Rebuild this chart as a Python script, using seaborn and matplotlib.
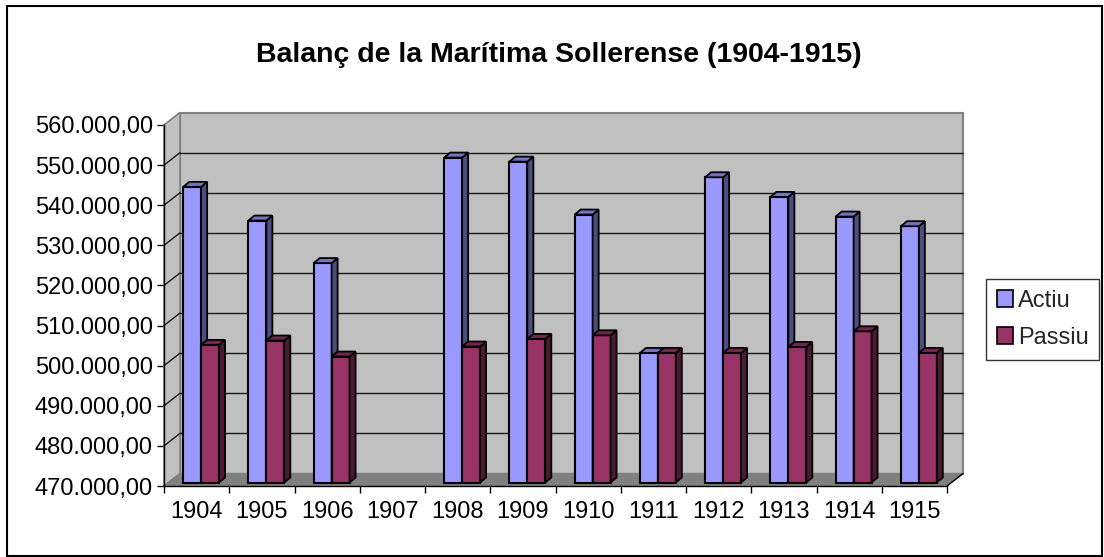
import numpy as np
import pandas as pd
import matplotlib
matplotlib.use("Agg")
import matplotlib.pyplot as plt
import seaborn as sns
from matplotlib.patches import Polygon, Rectangle, Patch
from matplotlib.lines import Line2D
from matplotlib.transforms import IdentityTransform, ScaledTranslation
from matplotlib.ticker import FuncFormatter

years = ["1904", "1905", "1906", "1907", "1908", "1909",
         "1910", "1911", "1912", "1913", "1914", "1915"]
actiu = [543700, 535300, 524700, np.nan, 551000, 550000,
         536800, 502300, 546100, 541200, 536300, 533900]
passiu = [504300, 505400, 501400, np.nan, 503900, 505800,
          506700, 502300, 502300, 503800, 507700, 502300]
series = ["Actiu", "Passiu"]

YMIN, YMAX = 470000, 560000
FRONT = {"Actiu": "#9999FF", "Passiu": "#993366"}
SIDE = {"Actiu": "#4D4D80", "Passiu": "#4D1A33"}
TOP = {"Actiu": "#7373C0", "Passiu": "#73264D"}

W, H = 1104, 557
WALL = (16, 12.5)    # depth of back wall, px
BAR_OFF = (4.5, 3.5)  # where bars sit in depth, px
BAR_D = (6, 5)       # bar depth, px

sns.set_theme(style="white")
plt.rcParams["font.family"] = ["Liberation Sans", "DejaVu Sans"]

df = pd.DataFrame({"year": years * 2,
                   "value": actiu + passiu,
                   "serie": ["Actiu"] * len(years) + ["Passiu"] * len(years)})

fig = plt.figure(figsize=(W / 100, H / 100), dpi=100)
ax = fig.add_axes([164 / W, (H - 486) / H, 783 / W, 361 / H])
ax.set_facecolor("none")

sns.barplot(data=df.dropna(), x="year", y="value", hue="serie", order=years,
            hue_order=series, palette=FRONT, saturation=1, width=0.55, errorbar=None,
            edgecolor="black", linewidth=1.5, legend=False, ax=ax)
bars = list(ax.patches)

ax.set_xlim(-0.5, len(years) - 0.5)
ax.set_ylim(YMIN, YMAX)


def disp(x, y, off=(0, 0)):
    p = ax.transData.transform((x, y))
    return (p[0] + off[0], p[1] + off[1])


def poly(pts, fc, ec, lw, z):
    ax.add_patch(Polygon(pts, closed=True, facecolor=fc, edgecolor=ec, lw=lw,
                         transform=IdentityTransform(), clip_on=False, zorder=z))


def line(p0, p1, color, lw, z):
    ax.add_line(Line2D([p0[0], p1[0]], [p0[1], p1[1]], color=color, lw=lw,
                       transform=IdentityTransform(), clip_on=False, zorder=z))


x0, x1 = -0.5, len(years) - 0.5
# back wall
poly([disp(x0, YMIN, WALL), disp(x1, YMIN, WALL), disp(x1, YMAX, WALL), disp(x0, YMAX, WALL)],
     "#C0C0C0", "#808080", 1.5, 0.5)
# side wall
poly([disp(x0, YMIN), disp(x0, YMIN, WALL), disp(x0, YMAX, WALL), disp(x0, YMAX)],
     "#C0C0C0", "#808080", 1.2, 0.55)
yticks = list(range(YMIN, YMAX + 1, 10000))
for v in yticks[1:-1]:
    line(disp(x0, v, WALL), disp(x1, v, WALL), "#1a1a1a", 1.0, 0.6)
    line(disp(x0, v), disp(x0, v, WALL), "#1a1a1a", 1.0, 0.6)
# floor
poly([disp(x0, YMIN), disp(x1, YMIN), disp(x1, YMIN, WALL), disp(x0, YMIN, WALL)],
     "#808080", "#808080", 1.0, 0.7)
line(disp(x1, YMIN), disp(x1, YMIN, WALL), "black", 1.0, 0.75)

# bars: move into depth and add side/top faces
actiu_rgb = matplotlib.colors.to_rgb(FRONT["Actiu"])
for p in bars:
    h = p.get_height()
    if not np.isfinite(h) or h <= 0:
        p.set_visible(False)
        continue
    name = "Actiu" if np.allclose(p.get_facecolor()[:3], actiu_rgb, atol=0.02) else "Passiu"
    z = 3 if name == "Actiu" else 3.2
    p.set_y(YMIN)
    p.set_height(h - YMIN)
    xl, w = p.get_x(), p.get_width()
    off = BAR_OFF
    dep = (BAR_OFF[0] + BAR_D[0], BAR_OFF[1] + BAR_D[1])
    p.set_transform(ax.transData + ScaledTranslation(off[0] / 100, off[1] / 100,
                                                     fig.dpi_scale_trans))
    p.set_zorder(z)
    p.set_clip_on(False)
    poly([disp(xl + w, YMIN, off), disp(xl + w, YMIN, dep), disp(xl + w, h, dep), disp(xl + w, h, off)],
         SIDE[name], "black", 1.3, z + 0.05)
    poly([disp(xl, h, off), disp(xl + w, h, off), disp(xl + w, h, dep), disp(xl, h, dep)],
         TOP[name], "black", 1.3, z + 0.06)

# axes, ticks
for s in ["top", "right"]:
    ax.spines[s].set_visible(False)
for s in ["left", "bottom"]:
    ax.spines[s].set_color("black")
    ax.spines[s].set_linewidth(1.0)
ax.set_yticks(yticks)
ax.yaxis.set_major_formatter(FuncFormatter(
    lambda v, _: f"{v:,.2f}".replace(",", "X").replace(".", ",").replace("X", ".")))
ax.tick_params(axis="y", left=True, length=5, width=1, color="black", pad=3,
               labelsize=17, labelcolor="black")
ax.set_xticks(np.arange(-0.5, len(years), 1))
ax.set_xticklabels([])
ax.set_xticks(np.arange(len(years)), labels=years, minor=True)
ax.tick_params(axis="x", which="major", bottom=True, length=5, width=1, color="black")
ax.tick_params(axis="x", which="minor", bottom=True, length=0, pad=11,
               labelsize=17, labelcolor="black")
ax.set_xlabel("")
ax.set_ylabel("")

fig.text(559 / W, 1 - 55 / H, "Balanç de la Marítima Sollerense (1904-1915)",
         ha="center", va="center", fontsize=20.5, fontweight="bold", color="black")

handles = [Patch(facecolor=FRONT[s], edgecolor="black", lw=1.2) for s in series]
leg = fig.legend(handles, series, loc="upper left", bbox_to_anchor=(986 / W, 1 - 279 / H),
                 frameon=True, fancybox=False, edgecolor="black", fontsize=17,
                 handlelength=0.7, handleheight=0.7, handletextpad=0.2,
                 borderpad=0.45, labelspacing=0.65, borderaxespad=0)
leg.get_frame().set_linewidth(1.0)

fig.patches.append(Rectangle((7 / W, 1 / H), 1095 / W, 550 / H, transform=fig.transFigure,
                             fill=False, edgecolor="black", lw=1.5))

fig.savefig("out.png", dpi=100)
